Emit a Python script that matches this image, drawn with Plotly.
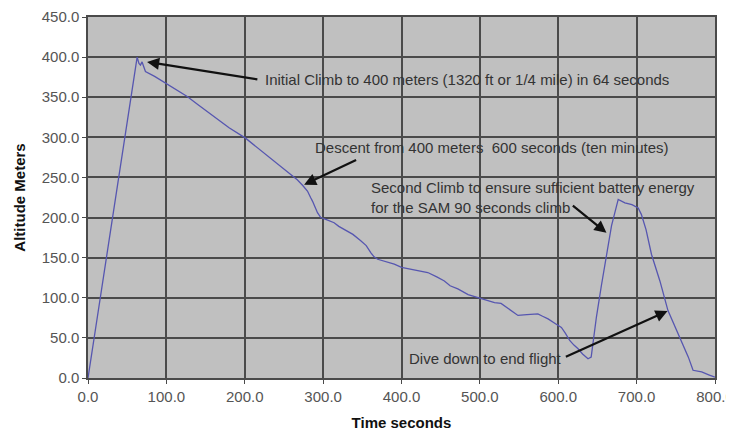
import plotly.graph_objects as go

# Flight log
time_s = [0, 24, 62.7, 65, 66.9, 69, 73.3, 85, 96.7, 110, 126.6, 140, 160.6, 180, 201, 215,
          233, 250, 267, 274, 280, 284, 286.4, 292.8, 297, 305, 314, 320, 327, 338, 348, 355,
          361, 365, 369.6, 380, 390.8, 400, 412, 422, 433.5, 445, 454.7, 462, 471.9, 485,
          497.4, 505, 512, 518.7, 527, 538, 548.6, 560, 574, 580, 587, 596, 604, 609, 614.6,
          620, 625.3, 631, 638, 642, 648.7, 655, 661.6, 668, 676.5, 685, 694, 702, 706, 712,
          719, 729.7, 740, 753, 766, 772, 783, 792, 800]
altitude_m = [0, 152, 400, 392, 390, 394, 382, 376, 369, 361, 351, 341, 326, 312, 299, 288,
              274, 261, 247, 240, 233, 225, 220.5, 206, 200, 197, 193.5, 189, 185, 179, 171, 165,
              156, 151, 148, 145, 142, 138, 135.7, 133, 131.5, 126, 121, 115, 111, 104,
              100.5, 98, 96, 94, 93, 85, 78, 79, 80, 77, 73.7, 68, 63, 56, 46.8,
              41, 36.5, 30, 24, 26, 76, 115, 153, 190, 222.6, 218.4, 216, 212, 204, 185,
              154, 121, 84, 55, 26, 9.6, 7.5, 4, 1]

x_ticks = [0, 100, 200, 300, 400, 500, 600, 700, 800]
y_ticks = [0, 50, 100, 150, 200, 250, 300, 350, 400, 450]

# Annotation texts and anchor points (data coordinates)
notes = [
    dict(text="Initial Climb to 400 meters (1320 ft or 1/4 mile) in 64 seconds",
         tx=223, ty=372, head=(75.4, 394), tail=(218, 372)),
    dict(text="Descent from 400 meters  600 seconds (ten minutes)",
         tx=286.5, ty=287.5, head=(275.7, 241), tail=(344, 272.6)),
    dict(text="Second Climb to ensure sufficient battery energy<br>for the SAM 90 seconds climb",
         tx=358.4, ty=225, head=(661.5, 181), tail=(616.7, 216.4)),
    dict(text="Dive down to end flight",
         tx=407, ty=24.8, head=(739.5, 83.6), tail=(607.8, 25.7)),
]

fig = go.Figure()
fig.add_trace(go.Scatter(x=time_s, y=altitude_m, mode="lines",
                         line=dict(color="#5656b0", width=1.3), showlegend=False))

anns = []
for n in notes:
    anns.append(dict(x=n["head"][0], y=n["head"][1], ax=n["tail"][0], ay=n["tail"][1],
                     xref="x", yref="y", axref="x", ayref="y", text="",
                     showarrow=True, arrowhead=2, arrowsize=1.1, arrowwidth=2.2,
                     arrowcolor="#111111", standoff=0, startstandoff=0))
    anns.append(dict(x=n["tx"], y=n["ty"], xref="x", yref="y", text=n["text"],
                     showarrow=False, xanchor="left", yanchor="middle", align="left",
                     font=dict(family="Liberation Sans, Arial", size=15, color="#333333")))

# page body keeps an 8px margin, so the figure is sized to the remaining area
fig.update_layout(
    width=726, height=425,
    margin=dict(l=80, r=19, t=9, b=55, autoexpand=False),
    paper_bgcolor="white", plot_bgcolor="#c0c0c0",
    font=dict(family="Liberation Sans, Arial", size=15, color="#555555"),
    annotations=anns,
)
fig.update_xaxes(range=[0, 800], tickvals=x_ticks, tickformat=".1f", automargin=False,
                 ticklabeloverflow="allow",
                 showgrid=True, gridcolor="#4a4a4a", gridwidth=1.5,
                 showline=True, linecolor="#4a4a4a", linewidth=1.5, mirror=True,
                 ticks="outside", ticklen=4, tickcolor="#4a4a4a", zeroline=False,
                 title=dict(text="<b>Time seconds</b>", standoff=14,
                            font=dict(size=15, color="#111111")))
fig.update_yaxes(range=[0, 450], tickvals=y_ticks, tickformat=".1f", automargin=False,
                 ticklabeloverflow="allow",
                 showgrid=True, gridcolor="#4a4a4a", gridwidth=1.5,
                 showline=True, linecolor="#4a4a4a", linewidth=1.5, mirror=True,
                 ticks="outside", ticklen=4, tickcolor="#4a4a4a", zeroline=False,
                 title=dict(text="<b>Altitude Meters</b>", standoff=12,
                            font=dict(size=15, color="#111111")))

fig.write_html("out.html")
